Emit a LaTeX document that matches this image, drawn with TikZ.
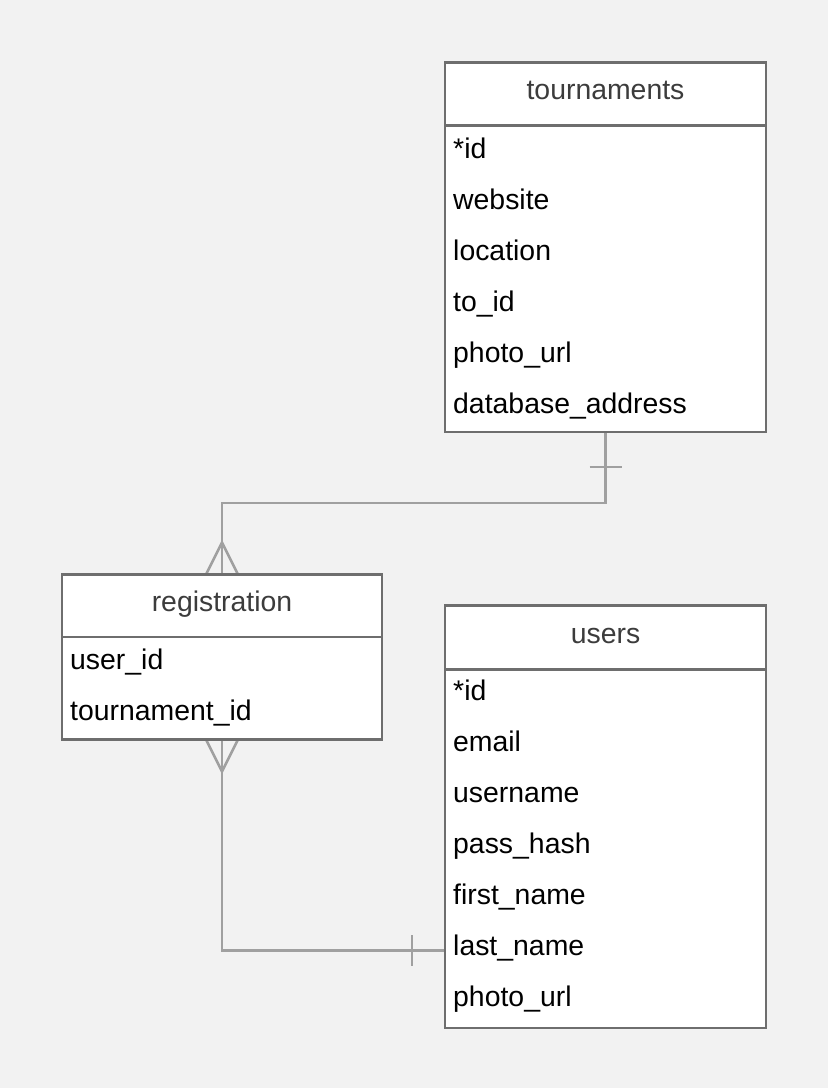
\documentclass[tikz,border=0pt]{standalone}
\usepackage{fontspec}
\setmainfont{Liberation Sans}
\usetikzlibrary{calc}
\definecolor{bgc}{HTML}{F2F2F2}
\definecolor{bordc}{HTML}{6E6E6E}
\definecolor{connc}{HTML}{A0A0A0}
\definecolor{headc}{HTML}{3C3C3C}
\begin{document}
\begin{tikzpicture}[x=1pt,y=-1pt,
  entity/.style={draw=bordc, line width=2.5pt, fill=white, rectangle, inner sep=0pt, outer sep=0pt, anchor=north west},
  sepline/.style={draw=bordc, line width=2.5pt},
  hdr/.style={font=\fontsize{28.4}{34}\selectfont, text=headc, anchor=base, inner sep=0pt},
  fld/.style={font=\fontsize{28.4}{34}\selectfont, text=black, anchor=base west, inner sep=0pt},
  conn/.style={draw=connc, line width=2.5pt}]
\fill[bgc] (0,0) rectangle (828,1088);
\useasboundingbox (0,0) rectangle (828,1088);

% boxes (coordinates only, drawn after connectors)
\path (445,62.5) node[entity, minimum width=321pt, minimum height=369.5pt, draw=none, fill=none] (tour) {};
\path (62,574.5) node[entity, minimum width=320pt, minimum height=165pt, draw=none, fill=none] (reg) {};
\path (445,605.5) node[entity, minimum width=321pt, minimum height=422.5pt, draw=none, fill=none] (users) {};

% connectors
\draw[conn] (tour.south) -- ++(0,71) -| (reg.north);
\draw[conn] ($(tour.south)+(-16,35)$) -- ($(tour.south)+(16,35)$);
\draw[conn] ($(reg.north)+(-16,0)$) -- ($(reg.north)+(0,-32)$) -- ($(reg.north)+(16,0)$);

\coordinate (uin) at (445,950.5);
\draw[conn] (reg.south) |- (uin);
\draw[conn] ($(uin)+(-33,-15.5)$) -- ($(uin)+(-33,15.5)$);
\draw[conn] ($(reg.south)+(-16,0)$) -- ($(reg.south)+(0,32)$) -- ($(reg.south)+(16,0)$);

% tournaments
\path (445,62.5) node[entity, minimum width=321pt, minimum height=369.5pt] (tourbox) {};
\draw[sepline] (445,125.3) -- (766,125.3);
\node[hdr] (th) at (605.5,99.5) {tournaments};
\node[fld] (t1) at (453,158) {*id};
\node[fld] (t2) at (453,209.1) {website};
\node[fld] (t3) at (453,260.2) {location};
\node[fld] (t4) at (453,311.3) {to\_id};
\node[fld] (t5) at (453,362.4) {photo\_url};
\node[fld] (t6) at (453,413.5) {database\_address};

% registration
\path (62,574.5) node[entity, minimum width=320pt, minimum height=165pt] (regbox) {};
\draw[sepline] (62,637) -- (382,637);
\node[hdr] (rh) at (222,611.5) {registration};
\node[fld] (r1) at (70,669) {user\_id};
\node[fld] (r2) at (70,720) {tournament\_id};

% users
\path (445,605.5) node[entity, minimum width=321pt, minimum height=422.5pt] (usersbox) {};
\draw[sepline] (445,669.5) -- (766,669.5);
\node[hdr] (uh) at (605.5,643) {users};
\node[fld] (u1) at (453,700) {*id};
\node[fld] (u2) at (453,751.1) {email};
\node[fld] (u3) at (453,802.2) {username};
\node[fld] (u4) at (453,853.3) {pass\_hash};
\node[fld] (u5) at (453,904.4) {first\_name};
\node[fld] (u6) at (453,955.5) {last\_name};
\node[fld] (u7) at (453,1006.6) {photo\_url};
\end{tikzpicture}
\end{document}
